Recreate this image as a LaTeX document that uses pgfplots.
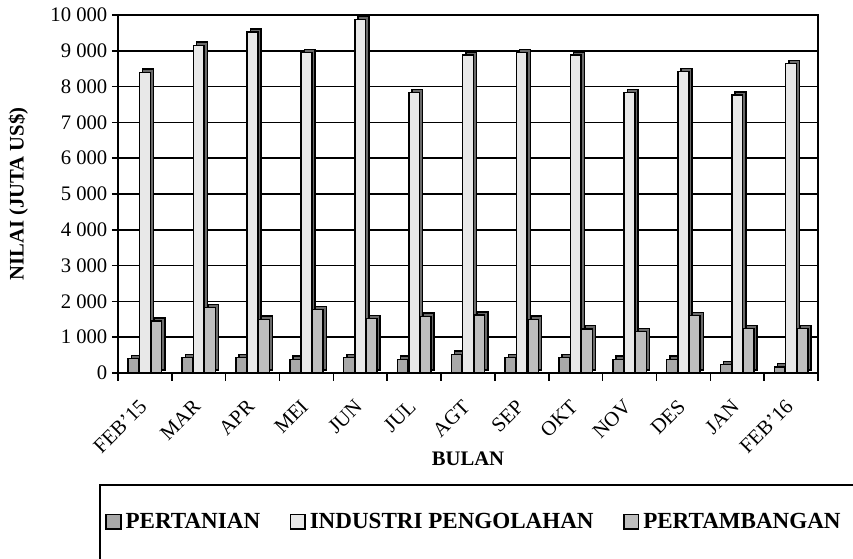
\documentclass[border=0pt]{standalone}
\usepackage{fontspec}
\setmainfont{Liberation Serif}
\usepackage{pgfplots}
\pgfplotsset{compat=1.18}
\definecolor{cA}{HTML}{A8A8A8}
\definecolor{cB}{HTML}{E8E8E8}
\definecolor{cC}{HTML}{BEBEBE}
\definecolor{sh}{HTML}{6A6A6A}
\pgfplotsset{
  sqlegend/.style={legend image code/.code={\draw[##1,line width=1.2pt] (0pt,-5.5pt) rectangle (11pt,5.5pt);}},
  front/.style={ybar, bar width=0.2, draw=black, line width=1.1pt, sqlegend},
  shadow/.style={ybar, bar width=0.2, draw=black, line width=1.1pt, fill=sh, xshift=2.4pt, yshift=2.4pt, forget plot},
}
\begin{document}
\begin{tikzpicture}
\path[use as bounding box, clip] (-88.5pt,-139.5pt) rectangle (551.25pt,279.75pt);
\begin{axis}[
  at={(0,0)}, anchor=south west,
  scale only axis, width=525pt, height=268.5pt,
  xmin=-0.5, xmax=12.5, ymin=0, ymax=10000,
  xtick={0,...,12},
  xticklabels={FEB'15,MAR,APR,MEI,JUN,JUL,AGT,SEP,OKT,NOV,DES,JAN,FEB'16},
  minor xtick={-0.5,0.5,...,12.5},
  major x tick style={draw=none},
  minor x tick style={black, line width=1.2pt},
  minor tick length=6pt,
  ytick={0,1000,...,10000},
  major tick length=4.5pt,
  ytick style={black, line width=1.2pt},
  tick align=outside, tick pos=left,
  scaled y ticks=false,
  /pgf/number format/.cd, assume math mode=true, 1000 sep={\hspace{0.25em}}, /pgfplots/.cd,
  ymajorgrids, grid style={black, line width=1.3pt},
  axis line style={black, line width=1.8pt},
  tick label style={font=\fontsize{15.5}{17}\selectfont},
  xticklabel style={xshift=-5pt, yshift=-13pt, rotate=45, anchor=north east, inner sep=1pt},
  label style={font=\bfseries\fontsize{15.5}{17}\selectfont},
  xlabel={BULAN},
  ylabel={NILAI (JUTA US\$)},
  xlabel style={yshift=7pt},
  ylabel shift=10pt,
  legend columns=3,
  legend style={at={(0.509,-0.416)}, anchor=center, draw=none, fill=none,
    font=\bfseries\fontsize{17.3}{19}\selectfont,
    /tikz/every even column/.append style={column sep=20pt},
    /tikz/every odd column/.append style={column sep=1pt}},
  legend cell align=left,
]
% PERTANIAN
\addplot[shadow, bar shift=-0.21] coordinates {(0,400) (1,430) (2,430) (3,380) (4,430) (5,380) (6,520) (7,430) (8,430) (9,380) (10,380) (11,230) (12,170)};
\addplot[front, fill=cA, bar shift=-0.21] coordinates {(0,400) (1,430) (2,430) (3,380) (4,430) (5,380) (6,520) (7,430) (8,430) (9,380) (10,380) (11,230) (12,170)};
\addlegendentry{PERTANIAN}
% INDUSTRI PENGOLAHAN
\addplot[shadow, bar shift=0.0] coordinates {(0,8400) (1,9150) (2,9520) (3,8950) (4,9880) (5,7830) (6,8880) (7,8950) (8,8880) (9,7830) (10,8420) (11,7760) (12,8640)};
\addplot[front, fill=cB, bar shift=0.0] coordinates {(0,8400) (1,9150) (2,9520) (3,8950) (4,9880) (5,7830) (6,8880) (7,8950) (8,8880) (9,7830) (10,8420) (11,7760) (12,8640)};
\addlegendentry{INDUSTRI PENGOLAHAN}
% PERTAMBANGAN
\addplot[shadow, bar shift=0.21] coordinates {(0,1450) (1,1830) (2,1500) (3,1770) (4,1520) (5,1580) (6,1620) (7,1500) (8,1230) (9,1160) (10,1600) (11,1240) (12,1240)};
\addplot[front, fill=cC, bar shift=0.21] coordinates {(0,1450) (1,1830) (2,1500) (3,1770) (4,1520) (5,1580) (6,1620) (7,1500) (8,1230) (9,1160) (10,1600) (11,1240) (12,1240)};
\addlegendentry{PERTAMBANGAN}
\end{axis}
\draw[line width=1.6pt] (-13.5pt,-84pt) rectangle (600pt,-200pt);
\end{tikzpicture}
\end{document}
